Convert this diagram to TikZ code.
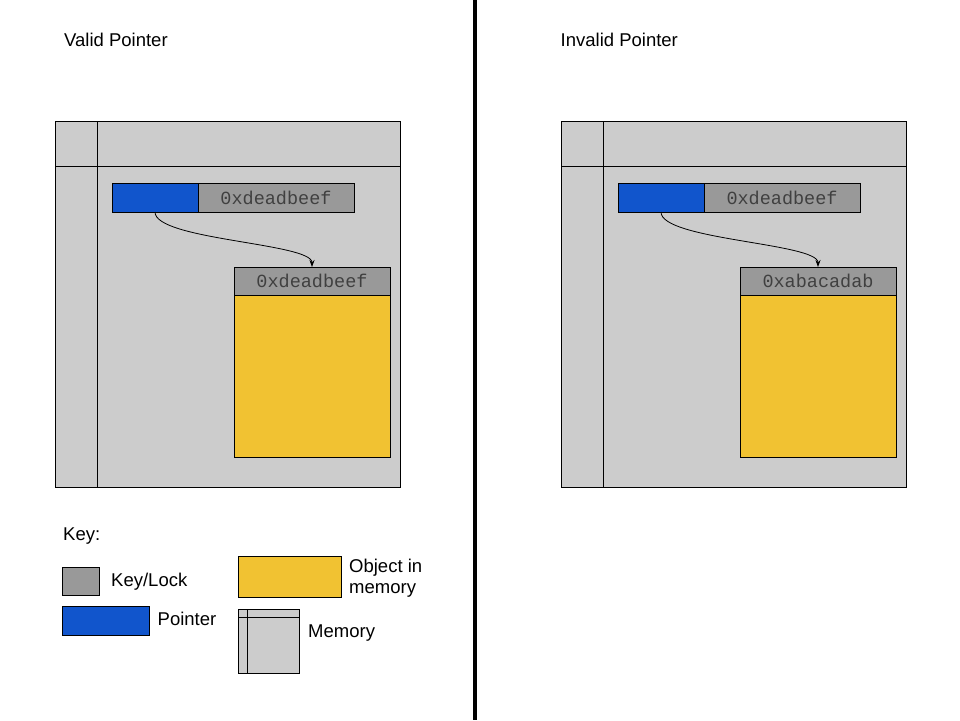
\documentclass[tikz,border=0pt]{standalone}
\usepackage{fontspec}
\setmainfont{Liberation Sans}
\newfontfamily\hexfont{Liberation Mono}
\usetikzlibrary{arrows.meta}
\definecolor{keygray}{HTML}{999999}
\definecolor{ptrblue}{HTML}{1155CC}
\definecolor{objyellow}{HTML}{F1C232}
\definecolor{memgray}{HTML}{CCCCCC}
\definecolor{hextext}{HTML}{404040}
\begin{document}
\begin{tikzpicture}[x=1pt,y=-1pt,
  font=\fontsize{18.5}{21.5}\selectfont,
  box/.style={draw=black, line width=1pt, inner sep=0pt, outer sep=0pt, anchor=north west},
  membox/.style={box, fill=memgray},
  ptrbox/.style={box, fill=ptrblue, minimum width=86pt, minimum height=29pt},
  keybox/.style={box, fill=keygray, minimum width=156pt, minimum height=29pt,
    font=\hexfont\fontsize{18.5}{20}\selectfont, text=hextext},
  hdrbox/.style={box, fill=keygray, minimum width=156pt, minimum height=28pt,
    font=\hexfont\fontsize{18.5}{20}\selectfont, text=hextext},
  objbox/.style={box, fill=objyellow, minimum width=156pt, minimum height=162pt},
  memline/.style={draw=black, line width=1pt},
  ptrarrow/.style={draw=black, line width=0.8pt, -{Stealth[length=7pt,width=5pt]}},
  label/.style={anchor=base west, inner sep=0pt, text=black}
]
\useasboundingbox (0,0) rectangle (960,720);
\fill[white] (0,0) rectangle (960,720);

% divider
\coordinate (divtop) at (475,0);
\coordinate (divbot) at (475,720);
\draw[line width=4pt] (divtop) -- (divbot);

% titles
\node[label] (titleL) at (64,46.5) {Valid Pointer};
\node[label] (titleR) at (560.5,46.5) {Invalid Pointer};

% ---------- left panel ----------
\node[membox, minimum width=345pt, minimum height=366pt] (memL) at (55,121) {};
\draw[memline] ([xshift=42pt]memL.north west) -- ([xshift=42pt]memL.south west);
\draw[memline] ([yshift=-45pt]memL.north west) -- ([yshift=-45pt]memL.north east);
\node[ptrbox] (ptrL) at (112,183) {};
\node[keybox] (keyL) at (198,183) {0xdeadbeef};
\node[hdrbox] (hdrL) at (234,267) {0xdeadbeef};
\node[objbox] (objL) at (234,295) {};
\draw[ptrarrow] (ptrL.south) .. controls +(0,28) and +(0,-24) .. (hdrL.north);

% ---------- right panel ----------
\node[membox, minimum width=345pt, minimum height=366pt] (memR) at (561,121) {};
\draw[memline] ([xshift=42pt]memR.north west) -- ([xshift=42pt]memR.south west);
\draw[memline] ([yshift=-45pt]memR.north west) -- ([yshift=-45pt]memR.north east);
\node[ptrbox] (ptrR) at (618,183) {};
\node[keybox] (keyR) at (704,183) {0xdeadbeef};
\node[hdrbox] (hdrR) at (740,267) {0xabacadab};
\node[objbox] (objR) at (740,295) {};
\draw[ptrarrow] (ptrR.south) .. controls +(0,28) and +(0,-24) .. (hdrR.north);

% ---------- key ----------
\node[label] (keytitle) at (63,540) {Key:};
\node[box, fill=keygray, minimum width=37pt, minimum height=28pt] (kgray) at (62,567) {};
\node[label] (kgraytxt) at (111,586) {Key/Lock};
\node[box, fill=ptrblue, minimum width=87pt, minimum height=29pt] (kblue) at (62,606) {};
\node[label] (kbluetxt) at (157.5,625) {Pointer};
\node[box, fill=objyellow, minimum width=103pt, minimum height=41pt] (kyellow) at (238,556) {};
\node[label] (kyellowtxt1) at (349,572) {Object in};
\node[label] (kyellowtxt2) at (349,593.5) {memory};
\node[membox, minimum width=61pt, minimum height=64pt] (kmem) at (238,609) {};
\draw[memline] ([xshift=9pt]kmem.north west) -- ([xshift=9pt]kmem.south west);
\draw[memline] ([yshift=-8pt]kmem.north west) -- ([yshift=-8pt]kmem.north east);
\node[label] (kmemtxt) at (308,637) {Memory};
\end{tikzpicture}
\end{document}
